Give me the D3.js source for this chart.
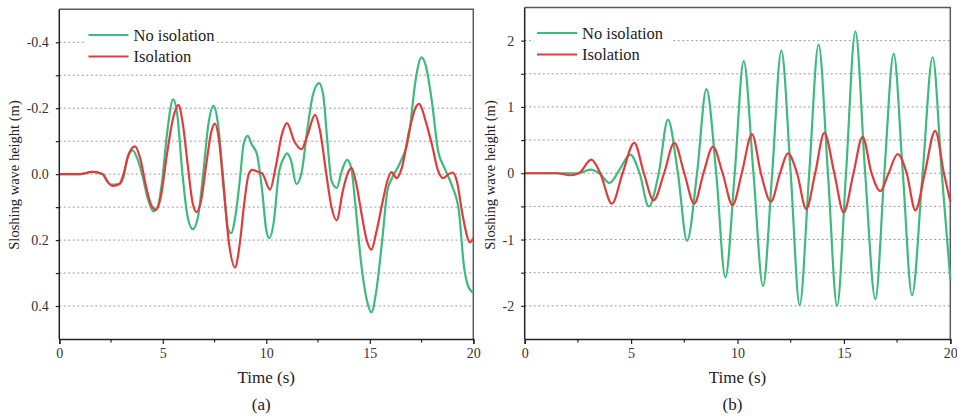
<!DOCTYPE html>
<html>
<head>
<meta charset="utf-8">
<script src="https://cdn.jsdelivr.net/npm/d3@7"></script>
<style>
  body { margin: 0; background: #fff; }
  svg text { font-family: "Times New Roman", Times, "Liberation Serif", "DejaVu Serif", "Noto Serif", serif; }
</style>
</head>
<body>
<div class="chart"></div>
<script>
// panel (a): [time s, sloshing height m]
var aNoIso = [[0,0],[1.0,0],[1.6,-0.007],[2.1,0.0],[2.3,0.02],[2.5,0.032],[2.9,0.03],[3.1,0.01],[3.3,-0.05],[3.55,-0.072],[3.75,-0.05],[4.0,0.0],[4.3,0.08],[4.55,0.113],[4.75,0.1],[4.95,0.03],[5.2,-0.12],[5.5,-0.227],[5.7,-0.18],[5.95,0.0],[6.2,0.13],[6.45,0.167],[6.7,0.13],[6.95,0.0],[7.2,-0.15],[7.45,-0.207],[7.65,-0.16],[7.9,0.0],[8.15,0.165],[8.3,0.179],[8.5,0.13],[8.75,0.0],[8.9,-0.09],[9.1,-0.116],[9.3,-0.09],[9.55,-0.06],[9.8,0.05],[10.0,0.17],[10.15,0.194],[10.35,0.15],[10.6,0.0],[10.85,-0.05],[11.0,-0.063],[11.2,-0.04],[11.45,0.03],[11.7,-0.003],[11.95,-0.12],[12.25,-0.24],[12.55,-0.276],[12.75,-0.24],[12.95,-0.1],[13.15,0.02],[13.4,0.042],[13.65,-0.01],[13.9,-0.043],[14.1,-0.02],[14.3,0.09],[14.6,0.28],[14.85,0.38],[15.08,0.419],[15.3,0.36],[15.6,0.2],[15.85,0.05],[16.05,0.015],[16.45,-0.033],[16.9,-0.12],[17.2,-0.28],[17.5,-0.354],[17.7,-0.33],[18.0,-0.22],[18.3,-0.07],[18.6,-0.02],[18.95,0.032],[19.3,0.11],[19.55,0.28],[19.75,0.34],[20,0.36]];
var aIso = [[0,0],[1.0,0],[1.6,-0.007],[2.1,0.0],[2.35,0.025],[2.6,0.036],[2.9,0.03],[3.1,0.0],[3.35,-0.06],[3.66,-0.084],[3.9,-0.05],[4.2,0.04],[4.45,0.095],[4.67,0.108],[4.9,0.07],[5.2,-0.06],[5.5,-0.17],[5.75,-0.21],[5.95,-0.16],[6.2,-0.03],[6.45,0.09],[6.63,0.115],[6.85,0.08],[7.1,-0.03],[7.35,-0.13],[7.52,-0.153],[7.7,-0.11],[7.95,0.05],[8.2,0.21],[8.49,0.283],[8.7,0.22],[8.95,0.08],[9.15,0.0],[9.32,-0.013],[9.55,-0.008],[9.8,-0.002],[10.18,0.047],[10.45,-0.02],[10.75,-0.12],[11.0,-0.155],[11.35,-0.1],[11.7,-0.076],[12.0,-0.12],[12.35,-0.18],[12.6,-0.13],[12.9,0.0],[13.15,0.1],[13.4,0.14],[13.7,0.05],[13.95,-0.005],[14.12,-0.018],[14.35,0.03],[14.6,0.12],[14.85,0.2],[15.08,0.229],[15.3,0.18],[15.6,0.09],[15.85,0.02],[16.05,-0.006],[16.3,0.012],[16.55,-0.02],[16.9,-0.13],[17.2,-0.2],[17.39,-0.213],[17.7,-0.16],[18.0,-0.09],[18.3,-0.01],[18.55,0.012],[18.8,0.0],[19.0,-0.005],[19.2,0.02],[19.5,0.13],[19.84,0.207],[20,0.194]];

// panel (b)
var bNoIso = [[0,0],[2.5,0],[3.09,0.055],[3.5,0.0],[3.99,-0.146],[4.45,0.05],[4.96,0.28],[5.4,0.0],[5.83,-0.5],[6.3,0.0],[6.73,0.81],[7.2,0.0],[7.63,-1.02],[8.1,0.0],[8.54,1.27],[9.0,0.0],[9.43,-1.57],[9.87,0.0],[10.29,1.69],[10.75,0.0],[11.2,-1.7],[11.63,0.0],[12.06,1.85],[12.5,0.0],[12.92,-1.99],[13.37,0.0],[13.81,1.94],[14.25,0.0],[14.68,-2.0],[15.1,0.0],[15.54,2.14],[16.0,0.0],[16.48,-1.9],[16.9,0.0],[17.34,1.8],[17.77,0.0],[18.2,-1.84],[18.7,0.0],[19.17,1.75],[19.6,0.0],[20,-1.6]];
var bIso = [[0,0],[1.5,0],[2.15,-0.03],[2.55,0.0],[3.13,0.206],[3.55,0.0],[4.1,-0.46],[4.6,0.0],[5.15,0.457],[5.6,0.0],[6.06,-0.41],[6.55,0.0],[7.03,0.46],[7.5,0.0],[7.97,-0.46],[8.4,0.0],[8.85,0.4],[9.3,0.0],[9.77,-0.48],[10.2,0.0],[10.68,0.59],[11.1,0.0],[11.57,-0.43],[12.0,0.0],[12.37,0.3],[12.8,0.0],[13.23,-0.54],[13.65,0.0],[14.08,0.61],[14.55,0.0],[14.99,-0.59],[15.45,0.0],[15.88,0.55],[16.3,0.0],[16.71,-0.27],[17.1,0.0],[17.53,0.29],[17.95,0.0],[18.36,-0.56],[18.8,0.0],[19.29,0.64],[19.7,0.0],[20,-0.43]];

var xTicks = [0, 5, 10, 15, 20];
var xMinor = [2.5, 7.5, 12.5, 17.5];
var aGrid = [-0.4, -0.3, -0.2, -0.1, 0, 0.1, 0.2, 0.3, 0.4];
var aLabels = [-0.4, -0.2, 0, 0.2, 0.4];
var bGrid = [-2, -1.5, -1, -0.5, 0, 0.5, 1, 1.5, 2];
var bLabels = [-2, -1, 0, 1, 2];
var seriesNames = ["No isolation", "Isolation"];

var green = "#3dba7e";
var red = "#e23b3b";

var svg = d3.select(".chart").append("svg")
    .attr("width", 957)
    .attr("height", 416);

function panel(opt) {
    var x = d3.scaleLinear().domain([0, 20]).range([opt.left, opt.right]);
    var y = d3.scaleLinear().domain(opt.domain).range([339, opt.top]);
    var g = svg.append("g");

    // dotted grid
    g.selectAll(".grid").data(opt.grid).enter().append("line")
        .attr("x1", opt.left).attr("x2", opt.right)
        .attr("y1", function (d) { return y(d); })
        .attr("y2", function (d) { return y(d); })
        .attr("stroke", "#9a9a9a")
        .attr("stroke-width", 1)
        .attr("stroke-dasharray", "2,2.5");

    // legend box hides the grid behind it
    g.append("rect")
        .attr("x", opt.legX - 3).attr("y", opt.legY - 13)
        .attr("width", opt.legW).attr("height", 46)
        .attr("fill", "#fff");

    // frame top / right
    g.append("path")
        .attr("d", "M" + opt.left + "," + opt.top + "H" + opt.right + "V339")
        .attr("fill", "none").attr("stroke", "#5a5a5a").attr("stroke-width", 1.5);

    var line = d3.line()
        .x(function (d) { return x(d[0]); })
        .y(function (d) { return y(d[1]); })
        .curve(d3.curveMonotoneX);

    g.append("path").datum(opt.noIso)
        .attr("d", line).attr("fill", "none")
        .attr("stroke", green).attr("stroke-width", 2.2);
    g.append("path").datum(opt.iso)
        .attr("d", line).attr("fill", "none")
        .attr("stroke", red).attr("stroke-width", 2.2);

    // x axis
    var xAxis = d3.axisBottom(x).tickValues(xTicks).tickSize(5).tickPadding(4)
        .tickFormat(d3.format("d"));
    var xg = g.append("g").attr("transform", "translate(0,339)").call(xAxis)
        .attr("font-family", null);
    xg.select(".domain").attr("stroke", "#222").attr("stroke-width", 1.5);
    xg.selectAll(".tick line").attr("stroke", "#222").attr("stroke-width", 1.2);
    xg.selectAll(".tick text").attr("font-size", 14).attr("fill", "#333");
    g.selectAll(".xminor").data(xMinor).enter().append("line")
        .attr("x1", function (d) { return x(d); })
        .attr("x2", function (d) { return x(d); })
        .attr("y1", 339).attr("y2", 342.5)
        .attr("stroke", "#222").attr("stroke-width", 1.2);

    // y axis
    var yAxis = d3.axisLeft(y).tickValues(opt.grid).tickSize(3.5).tickPadding(7)
        .tickFormat(function (d) { return opt.labels.indexOf(d) >= 0 ? opt.fmt(d) : ""; });
    var yg = g.append("g").attr("transform", "translate(" + opt.left + ",0)").call(yAxis)
        .attr("font-family", null);
    yg.select(".domain").attr("stroke", "#222").attr("stroke-width", 1.5)
        .attr("d", "M0," + opt.top + "V339");
    yg.selectAll(".tick line").attr("stroke", "#222").attr("stroke-width", 1.2);
    yg.selectAll(".tick text").attr("font-size", 14).attr("fill", "#333");

    var cx = (opt.left + opt.right) / 2;
    g.append("text")
        .attr("x", cx).attr("y", 383)
        .attr("text-anchor", "middle")
        .attr("font-size", 17).attr("fill", "#222")
        .text("Time (s)");
    g.append("text")
        .attr("x", cx - 5).attr("y", 410)
        .attr("text-anchor", "middle")
        .attr("font-size", 17).attr("fill", "#222")
        .text(opt.tag);
    g.append("text")
        .attr("transform", "translate(" + opt.ylabX + ",175)rotate(-90)")
        .attr("text-anchor", "middle")
        .attr("font-size", 14.5).attr("fill", "#222")
        .text("Sloshing wave height (m)");

    // legend
    var leg = g.selectAll(".leg").data(seriesNames).enter().append("g")
        .attr("transform", function (d, i) { return "translate(" + opt.legX + "," + (opt.legY + i * 21.5) + ")"; });
    leg.append("line")
        .attr("x1", 0).attr("x2", 40)
        .attr("stroke", function (d, i) { return i === 0 ? green : red; })
        .attr("stroke-width", 2.2);
    leg.append("text")
        .attr("x", 45).attr("y", 5.5)
        .attr("font-size", 16.5).attr("fill", "#222")
        .text(function (d) { return d; });
}

panel({
    left: 59.3, right: 473.3, top: 9.3,
    domain: [0.5, -0.5],
    grid: aGrid, labels: aLabels,
    fmt: function (d) { return d.toFixed(1); },
    noIso: aNoIso, iso: aIso,
    tag: "(a)", ylabX: 19,
    legX: 88.5, legY: 35, legW: 130
});

panel({
    left: 524.7, right: 950.3, top: 7.5,
    domain: [-2.5, 2.5],
    grid: bGrid, labels: bLabels,
    fmt: function (d) { return String(d); },
    noIso: bNoIso, iso: bIso,
    tag: "(b)", ylabX: 495,
    legX: 537, legY: 33, legW: 137
});
</script>
</body>
</html>
